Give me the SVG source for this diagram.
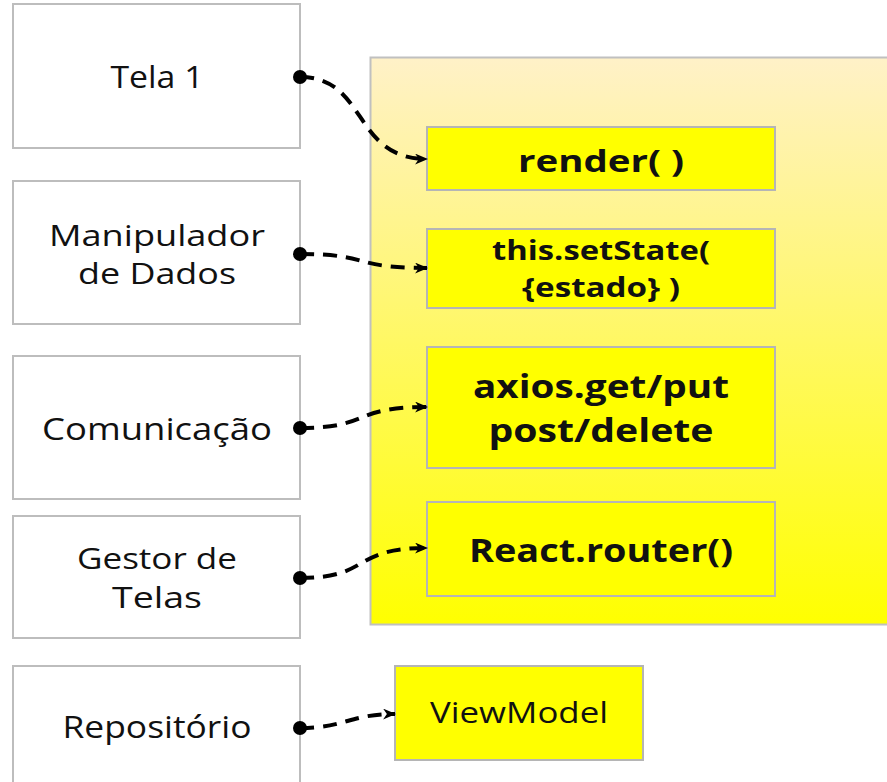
<svg xmlns="http://www.w3.org/2000/svg" width="887" height="782" viewBox="0 0 887 782">
<defs>
<linearGradient id="cg" x1="0" y1="0" x2="0" y2="1">
<stop offset="0" stop-color="#FFF1C8"/>
<stop offset="1" stop-color="#FFFF00"/>
</linearGradient>
<marker id="arr" viewBox="0 0 12 10" refX="11" refY="5" markerWidth="13" markerHeight="11" markerUnits="userSpaceOnUse" orient="auto">
<path d="M0,0 L12,5 L0,10 L3.5,5 Z" fill="#000"/>
</marker>
</defs>
<style>
.box{fill:#fff;stroke:#bdbdbd;stroke-width:2}
.ybox{fill:#ffff00;stroke:#b5b5b5;stroke-width:2}
.t{font-family:"Open Sans","Noto Sans","Liberation Sans",sans-serif;font-size:31px;fill:#111;text-anchor:middle}
.m{font-size:29px}
.b{font-weight:bold}
.c{fill:none;stroke:#000;stroke-width:4;stroke-dasharray:14 9;marker-end:url(#arr)}
.dot{fill:#000}
</style>
<g id="container">
<rect x="370.5" y="57.5" width="530" height="567" fill="url(#cg)" stroke="#c0c0c0" stroke-width="2"/>
</g>
<g id="tela1">
<rect class="box" x="13" y="4" width="287" height="144"/>
<text class="t" x="157" y="88" textLength="93" lengthAdjust="spacingAndGlyphs">Tela 1</text>
</g>
<g id="manipulador">
<rect class="box" x="13" y="181" width="287" height="143"/>
<text class="t m" x="157" y="246" textLength="216" lengthAdjust="spacingAndGlyphs">Manipulador</text>
<text class="t m" x="157" y="284" textLength="158" lengthAdjust="spacingAndGlyphs">de Dados</text>
</g>
<g id="comunicacao">
<rect class="box" x="13" y="356" width="287" height="143"/>
<text class="t" x="157" y="440" textLength="230" lengthAdjust="spacingAndGlyphs">Comunicação</text>
</g>
<g id="gestor">
<rect class="box" x="13" y="516" width="287" height="122"/>
<text class="t m" x="157" y="569" textLength="160" lengthAdjust="spacingAndGlyphs">Gestor de</text>
<text class="t m" x="157" y="608" textLength="90" lengthAdjust="spacingAndGlyphs">Telas</text>
</g>
<g id="repositorio">
<rect class="box" x="13" y="666" width="287" height="140"/>
<text class="t" x="157" y="738" textLength="189" lengthAdjust="spacingAndGlyphs">Repositório</text>
</g>
<g id="render">
<rect class="ybox" x="427" y="127" width="348" height="63"/>
<text class="t b" x="601" y="172" textLength="166" lengthAdjust="spacingAndGlyphs">render( )</text>
</g>
<g id="setstate">
<rect class="ybox" x="427" y="229" width="348" height="79"/>
<text class="t b" x="601" y="260" style="font-size:26px" textLength="218" lengthAdjust="spacingAndGlyphs">this.setState(</text>
<text class="t b" x="601" y="297" style="font-size:26px" textLength="158" lengthAdjust="spacingAndGlyphs">{estado} )</text>
</g>
<g id="axios">
<rect class="ybox" x="427" y="347" width="348" height="121"/>
<text class="t b" x="601" y="398" style="font-size:32px" textLength="256" lengthAdjust="spacingAndGlyphs">axios.get/put</text>
<text class="t b" x="601" y="442" style="font-size:32px" textLength="225" lengthAdjust="spacingAndGlyphs">post/delete</text>
</g>
<g id="router">
<rect class="ybox" x="427" y="502" width="348" height="94"/>
<text class="t b" x="601" y="562" style="font-size:33px" textLength="264" lengthAdjust="spacingAndGlyphs">React.router()</text>
</g>
<g id="viewmodel">
<rect class="ybox" x="395" y="666" width="248" height="94"/>
<text class="t" x="519" y="723" style="font-size:29px" textLength="178" lengthAdjust="spacingAndGlyphs">ViewModel</text>
</g>
<g id="connectors">
<path class="c" d="M300,77 C368,77 352,159 427,159"/>
<path class="c" d="M300,254 C372,254 350,268 427,268"/>
<path class="c" d="M300,428 C372,428 350,407 427,407"/>
<path class="c" d="M300,578 C372,578 350,548 427,548"/>
<path class="c" d="M300,728 C345,728 350,714 395,714"/>
<circle class="dot" cx="300" cy="77" r="7"/>
<circle class="dot" cx="300" cy="254" r="7"/>
<circle class="dot" cx="300" cy="428" r="7"/>
<circle class="dot" cx="300" cy="578" r="7"/>
<circle class="dot" cx="300" cy="728" r="7"/>
</g>
</svg>
